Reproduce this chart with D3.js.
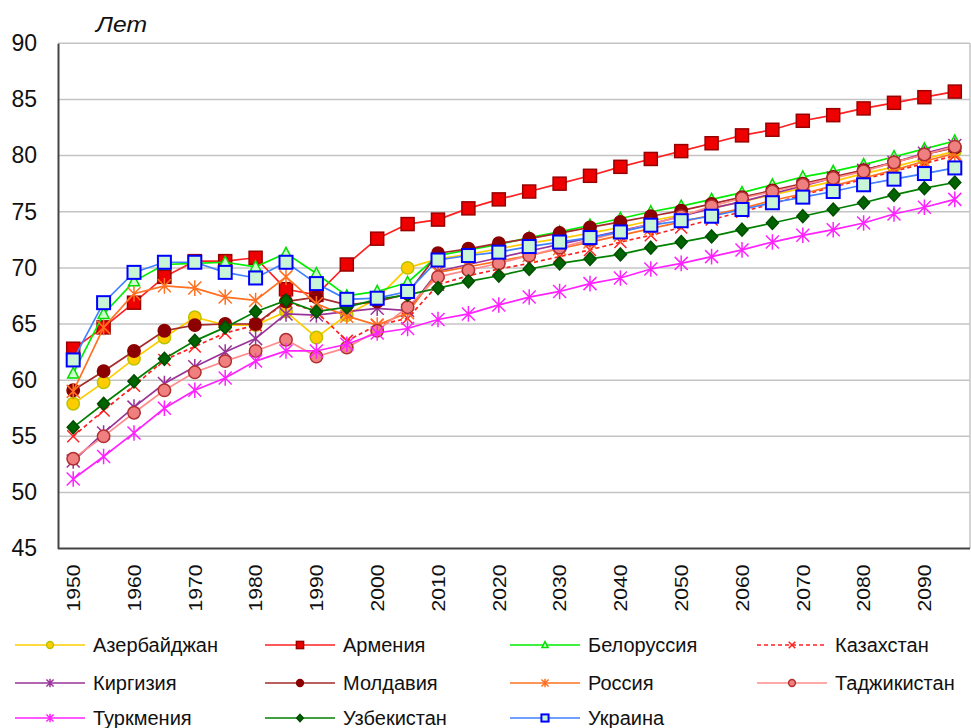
<!DOCTYPE html>
<html>
<head>
<meta charset="utf-8">
<script src="https://cdn.jsdelivr.net/npm/d3@7"></script>
<style>
  body { margin: 0; background: #fff; }
  svg { display: block; font-family: Arial, "Liberation Sans", sans-serif; }
</style>
</head>
<body>
<svg width="971" height="728"></svg>
<script>
// years on the category axis
var years = [1950, 1955, 1960, 1965, 1970, 1975, 1980, 1985, 1990, 1995, 2000, 2005,
  2010, 2015, 2020, 2025, 2030, 2035, 2040, 2045, 2050, 2055, 2060, 2065, 2070, 2075,
  2080, 2085, 2090, 2095];
var tickYears = [1950, 1960, 1970, 1980, 1990, 2000, 2010, 2020, 2030, 2040, 2050, 2060, 2070, 2080, 2090];
var yTicks = [45, 50, 55, 60, 65, 70, 75, 80, 85, 90];

// life expectancy, years
var azerbaijan = [57.9, 59.8, 61.9, 63.8, 65.6, 64.9, 64.9, 66.1, 63.8, 65.8, 67.3, 70.0,
  70.8, 71.2, 71.7, 72.2, 72.6, 73.1, 73.6, 74.2, 74.7, 75.3, 75.9, 76.5, 77.1, 77.7, 78.4, 79.0, 79.7, 80.4];
var armenia = [62.8, 64.7, 66.9, 69.2, 70.6, 70.6, 70.9, 68.1, 67.6, 70.3, 72.6, 73.9,
  74.3, 75.3, 76.1, 76.8, 77.5, 78.2, 79.0, 79.7, 80.4, 81.1, 81.8, 82.3, 83.1, 83.6, 84.2, 84.7, 85.2, 85.7];
var belarus = [60.6, 65.9, 68.8, 70.3, 70.4, 70.5, 70.1, 71.3, 69.5, 67.5, 67.9, 68.7,
  71.1, 71.6, 72.1, 72.7, 73.2, 73.8, 74.4, 75.0, 75.5, 76.1, 76.7, 77.4, 78.1, 78.6, 79.2, 79.9, 80.6, 81.3];
var kazakhstan = [55.0, 57.3, 59.5, 61.8, 63.0, 64.2, 64.9, 67.0, 66.1, 63.5, 64.9, 65.5,
  68.5, 69.3, 69.9, 70.4, 71.0, 71.6, 72.3, 72.9, 73.6, 74.3, 75.0, 75.7, 76.5, 77.2, 77.9, 78.6, 79.3, 80.0];
var kyrgyzstan = [52.8, 55.3, 57.6, 59.7, 61.2, 62.5, 63.7, 65.9, 65.8, 66.1, 66.4, 66.2,
  69.7, 70.3, 70.9, 71.5, 72.1, 72.7, 73.3, 73.9, 74.6, 75.3, 75.9, 76.6, 77.3, 78.0, 78.7, 79.4, 80.2, 80.9];
var moldova = [59.1, 60.8, 62.6, 64.4, 64.9, 65.0, 65.0, 67.0, 67.4, 66.7, 67.0, 67.7,
  71.3, 71.7, 72.2, 72.6, 73.1, 73.6, 74.1, 74.6, 75.1, 75.7, 76.3, 76.9, 77.5, 78.1, 78.7, 79.4, 80.1, 80.7];
var russia = [59.0, 64.7, 67.7, 68.4, 68.2, 67.4, 67.1, 69.2, 66.8, 65.7, 64.9, 66.0,
  69.6, 70.1, 70.6, 71.1, 71.7, 72.3, 72.9, 73.5, 74.1, 74.7, 75.3, 76.0, 76.6, 77.3, 78.0, 78.7, 79.5, 80.2];
var tajikistan = [53.0, 55.0, 57.1, 59.1, 60.7, 61.7, 62.6, 63.6, 62.1, 62.9, 64.4, 66.5,
  69.2, 69.8, 70.4, 71.1, 71.8, 72.5, 73.2, 73.9, 74.6, 75.5, 76.2, 76.8, 77.4, 78.0, 78.6, 79.4, 80.1, 80.8];
var turkmenistan = [51.2, 53.2, 55.3, 57.5, 59.1, 60.2, 61.7, 62.6, 62.6, 63.2, 64.2, 64.6,
  65.4, 65.9, 66.7, 67.4, 67.9, 68.6, 69.1, 69.9, 70.4, 71.0, 71.6, 72.3, 72.9, 73.4, 74.0, 74.8, 75.4, 76.1];
var uzbekistan = [55.8, 57.9, 59.9, 61.9, 63.5, 64.7, 66.1, 67.1, 66.1, 66.5, 67.2, 67.6,
  68.2, 68.8, 69.3, 69.9, 70.4, 70.8, 71.2, 71.8, 72.3, 72.8, 73.4, 74.0, 74.6, 75.2, 75.8, 76.5, 77.1, 77.6];
var ukraine = [61.8, 66.9, 69.6, 70.5, 70.5, 69.6, 69.1, 70.5, 68.6, 67.2, 67.3, 67.9,
  70.7, 71.1, 71.4, 71.9, 72.3, 72.7, 73.2, 73.8, 74.2, 74.6, 75.2, 75.8, 76.3, 76.8, 77.4, 77.9, 78.4, 78.9];

var series = [
  {name: 'Азербайджан', values: azerbaijan, color: '#ffcc00', marker: 'circle', fill: '#ffcc00', stroke: '#b8c400'},
  {name: 'Армения', values: armenia, color: '#ff2020', marker: 'square', fill: '#ee0000', stroke: '#990000'},
  {name: 'Белоруссия', values: belarus, color: '#00ee00', marker: 'triangle', fill: '#ccffcc', stroke: '#00dd00'},
  {name: 'Казахстан', values: kazakhstan, color: '#ff2020', marker: 'x', fill: 'none', stroke: '#ff2020', dash: '4,3'},
  {name: 'Киргизия', values: kyrgyzstan, color: '#993399', marker: 'star', fill: 'none', stroke: '#993399'},
  {name: 'Молдавия', values: moldova, color: '#a52a2a', marker: 'circle', fill: '#8b0000', stroke: '#8b0000'},
  {name: 'Россия', values: russia, color: '#ff7020', marker: 'star', fill: 'none', stroke: '#ff7020'},
  {name: 'Таджикистан', values: tajikistan, color: '#ff8c8c', marker: 'circle', fill: '#f08080', stroke: '#b03030'},
  {name: 'Туркмения', values: turkmenistan, color: '#ff22ff', marker: 'star', fill: 'none', stroke: '#ff22ff'},
  {name: 'Узбекистан', values: uzbekistan, color: '#008000', marker: 'diamond', fill: '#006400', stroke: '#004d00'},
  {name: 'Украина', values: ukraine, color: '#4080ff', marker: 'square', fill: '#c8f5d8', stroke: '#0000ff', sw: 2}
];

var svg = d3.select('svg');
var plotLeft = 58, plotRight = 970, plotTop = 43.3, plotBottom = 548.6;

var x = d3.scalePoint().domain(years).range([plotLeft, plotRight]).padding(0.5);
var y = d3.scaleLinear().domain([45, 90]).range([plotBottom, plotTop]);

// gridlines
svg.append('g').selectAll('line').data(yTicks.slice(1))
  .enter().append('line')
  .attr('x1', plotLeft).attr('x2', plotRight)
  .attr('y1', function (d) { return y(d); }).attr('y2', function (d) { return y(d); })
  .attr('stroke', '#c4c4c4').attr('stroke-width', 1.5);
svg.append('line').attr('x1', plotRight).attr('x2', plotRight).attr('y1', plotTop).attr('y2', plotBottom)
  .attr('stroke', '#c4c4c4').attr('stroke-width', 1.5);

// axes
var yAxis = svg.append('g').attr('transform', 'translate(' + plotLeft + ',0)')
  .call(d3.axisLeft(y).tickValues(yTicks).tickSize(0).tickSizeOuter(0).tickPadding(21));
yAxis.select('.domain').attr('stroke', '#444').attr('stroke-width', 2);
yAxis.selectAll('text').attr('font-size', 23).attr('fill', '#111')
  .attr('font-family', 'Arial, "Liberation Sans", sans-serif');

var xAxis = svg.append('g').attr('transform', 'translate(0,' + plotBottom + ')')
  .call(d3.axisBottom(x).tickValues(tickYears).tickSize(0).tickSizeOuter(0));
xAxis.select('.domain').attr('stroke', '#444').attr('stroke-width', 2)
  .attr('d', 'M' + plotLeft + ',0H' + plotRight);
xAxis.selectAll('text')
  .attr('font-size', 18).attr('fill', '#111').attr('font-family', 'Arial, "Liberation Sans", sans-serif')
  .attr('text-anchor', 'end').attr('dy', '0.35em').attr('y', 0)
  .attr('transform', 'translate(0,16) rotate(-90)')
  .attr('textLength', 47).attr('lengthAdjust', 'spacingAndGlyphs');

svg.append('text').attr('x', 96).attr('y', 32).attr('font-size', 22).attr('font-style', 'italic')
  .attr('fill', '#111').attr('textLength', 51).attr('lengthAdjust', 'spacingAndGlyphs').text('Лет');

function drawMarker(g, s, k) {
  var m;
  if (s.marker === 'circle') {
    m = g.append('circle').attr('r', 6.2 * k);
  } else if (s.marker === 'square') {
    m = g.append('rect').attr('x', -6.5 * k).attr('y', -6.5 * k).attr('width', 13 * k).attr('height', 13 * k);
  } else if (s.marker === 'triangle') {
    m = g.append('path').attr('d', 'M0,' + (-6 * k) + 'L' + (5.5 * k) + ',' + (4.5 * k) + 'L' + (-5.5 * k) + ',' + (4.5 * k) + 'Z');
  } else if (s.marker === 'diamond') {
    m = g.append('path').attr('d', 'M0,' + (-6.5 * k) + 'L' + (6 * k) + ',0L0,' + (6.5 * k) + 'L' + (-6 * k) + ',0Z');
  } else if (s.marker === 'x') {
    var a = 6 * k;
    m = g.append('path').attr('d', 'M' + (-a) + ',' + (-a) + 'L' + a + ',' + a + 'M' + a + ',' + (-a) + 'L' + (-a) + ',' + a);
  } else {
    var b = 6.5 * k;
    m = g.append('path').attr('d', 'M' + (-b) + ',' + (-b) + 'L' + b + ',' + b + 'M' + b + ',' + (-b) + 'L' + (-b) + ',' + b + 'M0,' + (-b * 1.2) + 'L0,' + (b * 1.2));
  }
  m.attr('fill', s.fill).attr('stroke', s.stroke).attr('stroke-width', s.sw || 1.5);
}

var line = d3.line()
  .x(function (d, i) { return x(years[i]); })
  .y(function (d) { return y(d); });

series.forEach(function (s) {
  var g = svg.append('g');
  g.append('path').attr('d', line(s.values))
    .attr('fill', 'none').attr('stroke', s.color).attr('stroke-width', 1.7)
    .attr('stroke-dasharray', s.dash || null);
  s.values.forEach(function (v, i) {
    var mg = g.append('g').attr('transform', 'translate(' + x(years[i]) + ',' + y(v) + ')');
    drawMarker(mg, s, 1);
  });
});

// legend
var colX = [15, 265, 510, 757], rowY = [645, 683, 718];
series.forEach(function (s, i) {
  var lx = colX[i % 4], ly = rowY[Math.floor(i / 4)];
  var g = svg.append('g');
  g.append('line').attr('x1', lx).attr('x2', lx + 70).attr('y1', ly).attr('y2', ly)
    .attr('stroke', s.color).attr('stroke-width', 1.7).attr('stroke-dasharray', s.dash || null);
  drawMarker(g.append('g').attr('transform', 'translate(' + (lx + 35) + ',' + ly + ')'), s, 0.55);
  g.append('text').attr('x', lx + 78).attr('y', ly).attr('dy', '0.35em')
    .attr('font-size', 20).attr('fill', '#111').text(s.name);
});
</script>
</body>
</html>
